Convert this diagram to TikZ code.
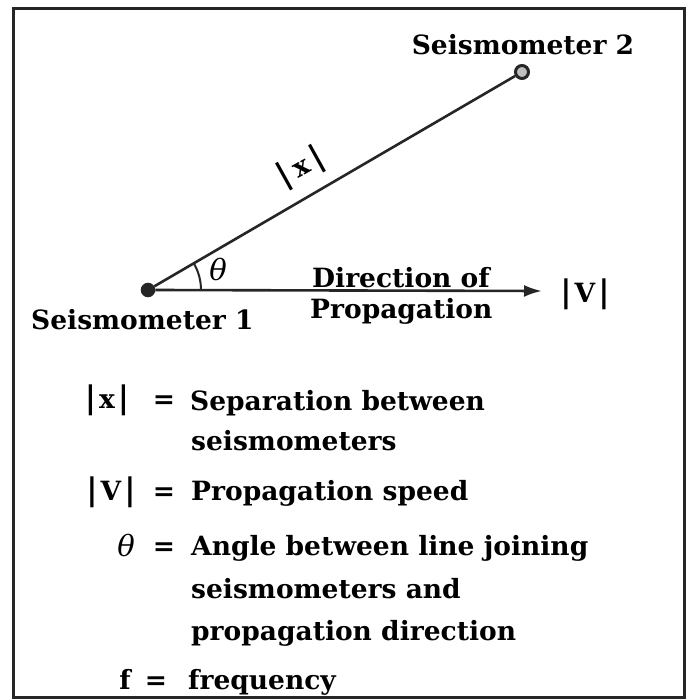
\documentclass[tikz,border=0pt]{standalone}
\usepackage{fontspec}
\setmainfont{DejaVu Serif}
\usetikzlibrary{arrows.meta}
\newcommand\vbr{{\fontsize{31}{31}\selectfont\bfseries|}}
\newcommand\absv[2][3pt]{\vbr\hspace{#1}#2\hspace{#1}\vbr}
\begin{document}
\begin{tikzpicture}[x=1pt,y=-1pt,
  bigfont/.style={font=\bfseries\fontsize{26.5}{30}\selectfont},
  txt/.style={bigfont, inner sep=0pt, anchor=base west},
  ctxt/.style={bigfont, inner sep=0pt, anchor=base},
  thfont/.style={inner sep=0pt, font=\itshape\fontsize{29}{30}\selectfont},
  frame/.style={line width=3pt, draw=black!85},
  heavy/.style={line width=2.6pt, draw=black!85},
  sdot/.style={circle, fill=black!85, draw=black!85, line width=1.5pt, minimum size=13pt, inner sep=0pt},
  sring/.style={circle, fill=black!25, draw=black!85, line width=3pt, minimum size=13pt, inner sep=0pt}]
\useasboundingbox (0,0) rectangle (695,700);
\draw[frame] (13,9) rectangle (684,697);
% seismometers
\node[sdot] (s1) at (148,290) {};
\node[sring] (s2) at (522,72) {};
\draw[heavy] (s1) -- (s2);
\coordinate (aend) at (542,291);
\draw[heavy, -{Latex[length=18pt,width=12pt]}] (s1.east) -- (aend);
\draw[heavy, line width=2pt] (s1.center) ++(53,0) arc (0:-30.2:53);
\node[ctxt] (l2) at (523,55) {Seismometer 2};
\node[txt] (l1) at (31,329) {Seismometer 1};
\node[bigfont, inner sep=0pt, rotate=29] (xl) at (301,168) {\absv[5pt]{x}};
\node[thfont] (th) at (218,269) {θ};
\node[txt] (d1) at (312,287) {Direction of};
\node[txt] (d2) at (310,318) {Propagation};
\node[ctxt] (vl) at (585,302) {\absv{V}};
% legend
\node[ctxt] (k1) at (107,408) {\absv{x}};
\node[ctxt] (e1) at (164,408) {=};
\node[txt] (t1a) at (190,410) {Separation between};
\node[txt] (t1b) at (191,450) {seismometers};
\node[ctxt] (k2) at (111,500) {\absv{V}};
\node[ctxt] (e2) at (164,500) {=};
\node[txt] (t2) at (191,500) {Propagation speed};
\node[thfont, anchor=base] (k3) at (126,556) {θ};
\node[ctxt] (e3) at (164,555) {=};
\node[txt] (t3a) at (191,555) {Angle between line joining};
\node[txt] (t3b) at (191,598) {seismometers and};
\node[txt] (t3c) at (191,640) {propagation direction};
\node[ctxt] (k4) at (125,689) {f};
\node[ctxt] (e4) at (156,689) {=};
\node[txt] (t4) at (188,689) {frequency};
\end{tikzpicture}
\end{document}
